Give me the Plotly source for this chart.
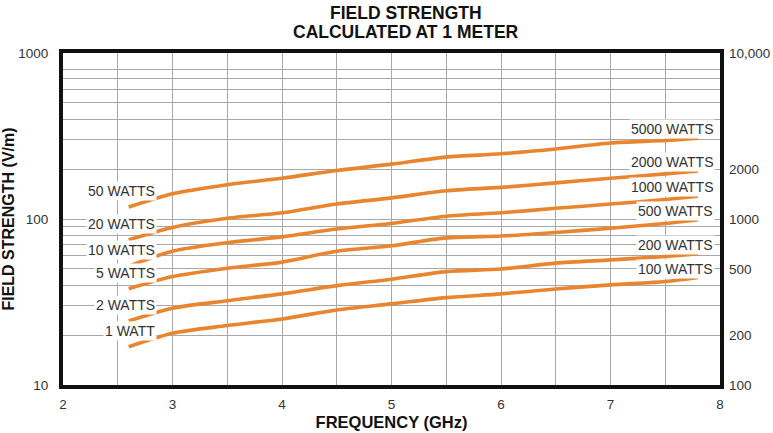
import math
import plotly.graph_objects as go

# ---- data ----
freq_ghz = [2.6, 3.0, 3.5, 4.0, 4.5, 5.0, 5.5, 6.0, 6.5, 7.0, 7.5, 7.8]

field_50w = [118, 142, 161, 176, 196, 214, 236, 247, 264, 287, 297, 307]
field_20w = [75, 89, 101, 109, 123, 134, 148, 155, 165, 176, 187, 195]
field_10w = [52, 64, 72, 78, 87, 94, 104, 109, 116, 123, 131, 137]
field_5w = [38, 45, 50.5, 55, 64, 69, 77, 79, 83, 88, 94, 99]
field_2w = [24.3, 29, 32.2, 35.4, 39.7, 43.4, 48.2, 50, 54.2, 56.7, 59.4, 61.7]
field_1w = [17, 20.5, 22.8, 25, 28.3, 30.8, 33.6, 35.4, 37.9, 40.1, 42, 44.4]

series = [field_50w, field_20w, field_10w, field_5w, field_2w, field_1w]
left_labels = ["50 WATTS", "20 WATTS", "10 WATTS", "5 WATTS", "2 WATTS", "1 WATT"]
right_labels = ["5000 WATTS", "2000 WATTS", "1000 WATTS", "500 WATTS", "200 WATTS", "100 WATTS"]

x_tickvals = [2, 2.5, 3, 3.5, 4, 4.5, 5, 5.5, 6, 6.5, 7, 7.5, 8]
x_ticktext = ["2", "", "3", "", "4", "", "5", "", "6", "", "7", "", "8"]

y_tickvals = [10, 20, 30, 40, 50, 60, 70, 80, 90, 100,
              200, 300, 400, 500, 600, 700, 800, 1000]
y_ticktext = ["10"] + [""] * 8 + ["100"] + [""] * 7 + ["1000"]

y2_tickvals = [100, 200, 500, 1000, 2000, 10000]
y2_ticktext = ["100", "200", "500", "1000", "2000", "10,000"]

title_lines = ["FIELD STRENGTH", "CALCULATED AT 1 METER"]

# ---- style ----
ORANGE = "#E8852E"
FONT = "Liberation Sans, Arial, sans-serif"
GRID = "#a8a8a8"
TXT = "#333333"

fig = go.Figure()
for vals, ll, rl in zip(series, left_labels, right_labels):
    fig.add_trace(go.Scatter(
        x=freq_ghz, y=vals, mode="lines", name=ll,
        line=dict(color=ORANGE, width=3.6, shape="spline", smoothing=0.8),
        showlegend=False, hoverinfo="skip"))
    # annotations on a log axis take log10 positions
    fig.add_annotation(x=freq_ghz[0], y=math.log10(vals[0]), xref="x", yref="y",
                       text=ll, showarrow=False, xanchor="right", yanchor="middle",
                       xshift=28, yshift=16, bgcolor="white", borderpad=1,
                       font=dict(family=FONT, size=14, color=TXT))
    fig.add_annotation(x=freq_ghz[-1], y=math.log10(vals[-1]), xref="x", yref="y",
                       text=rl, showarrow=False, xanchor="right", yanchor="middle",
                       xshift=17, yshift=9, bgcolor="white", borderpad=1,
                       font=dict(family=FONT, size=14, color=TXT))

# invisible trace to keep the right axis alive
fig.add_trace(go.Scatter(x=[None], y=[None], yaxis="y2", showlegend=False,
                         hoverinfo="skip", mode="lines"))

fig.add_annotation(x=0.522, y=1.1205, xref="paper", yref="paper",
                   text="<b>" + title_lines[0] + "</b>", showarrow=False,
                   xanchor="center", yanchor="middle",
                   font=dict(family=FONT, size=17.5, color="#111"))
fig.add_annotation(x=0.522, y=1.0633, xref="paper", yref="paper",
                   text="<b>" + title_lines[1] + "</b>", showarrow=False,
                   xanchor="center", yanchor="middle",
                   font=dict(family=FONT, size=17.5, color="#111"))

fig.update_layout(
    width=773, height=433,
    margin=dict(l=63, r=53, t=53, b=48, autoexpand=False),
    paper_bgcolor="white", plot_bgcolor="white",
    font=dict(family=FONT, size=13.5, color=TXT),
    xaxis=dict(range=[2, 8], tickvals=x_tickvals, ticktext=x_ticktext,
               automargin=False,
               showgrid=True, gridcolor=GRID, gridwidth=1, zeroline=False,
               showline=True, linecolor="#111", linewidth=4, mirror=True,
               ticks="", ticklabelstandoff=4,
               tickfont=dict(family=FONT, size=13.5, color=TXT),
               title=dict(text="<b>FREQUENCY (GHz)</b>", standoff=6,
                          font=dict(family=FONT, size=16.5, color="#111"))),
    yaxis=dict(type="log", range=[1, 3], tickvals=y_tickvals, ticktext=y_ticktext,
               automargin=False,
               showgrid=True, gridcolor=GRID, gridwidth=1, zeroline=False,
               showline=True, linecolor="#111", linewidth=4, mirror=True,
               ticks="", ticklabelstandoff=8,
               tickfont=dict(family=FONT, size=13.5, color=TXT),
               title=dict(text="<b>FIELD STRENGTH (V/m)</b>", standoff=3,
                          font=dict(family=FONT, size=16, color="#111"))),
    yaxis2=dict(type="log", range=[2, 4], overlaying="y", side="right",
                automargin=False,
                tickvals=y2_tickvals, ticktext=y2_ticktext, showgrid=False,
                zeroline=False, showline=False, ticks="", ticklabelstandoff=8,
                tickfont=dict(family=FONT, size=13.5, color=TXT)),
)

fig.write_html("out.html", config={"displayModeBar": False},
               post_script="document.body.style.margin='0';document.body.style.padding='0';")
